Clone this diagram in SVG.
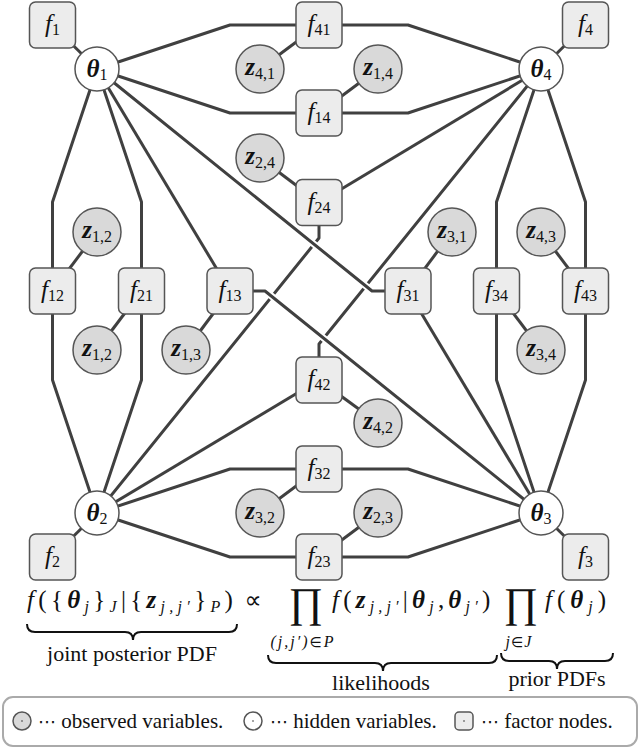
<svg xmlns="http://www.w3.org/2000/svg" width="640" height="749" viewBox="0 0 640 749">
<defs>
<rect id="fb" x="-23" y="-23" width="46" height="46" rx="6" fill="#ececec" stroke="#555" stroke-width="1.5"/>
<circle id="obsC" r="24" fill="#d9d9d9" stroke="#555" stroke-width="1.5"/>
<circle id="hidC" r="22" fill="#fff" stroke="#555" stroke-width="1.5"/>
</defs>
<g id="connectors" fill="none" stroke="#404040" stroke-width="3" stroke-linejoin="round">
<polyline points="97,69 52.5,25"/>
<polyline points="97,69 52.5,202 52.5,291"/>
<polyline points="97,69 141.5,202 141.5,291"/>
<polyline points="97,69 230,291"/>
<polyline points="97,69 230,25 319,25"/>
<polyline points="97,69 230,113 319,113"/>
<polyline points="97,513 52.5,557"/>
<polyline points="52.5,291 52.5,380 97,513"/>
<polyline points="141.5,291 141.5,380 97,513"/>
<polyline points="319,202.5 319,238 97,513"/>
<polyline points="319,380 97,513"/>
<polyline points="97,513 230,469 319,469"/>
<polyline points="97,513 230,557 319,557"/>
<polyline points="541,513 585.5,557"/>
<polyline points="496.5,291 496.5,380 541,513"/>
<polyline points="585.5,291 585.5,380 541,513"/>
<polyline points="408,291 541,513"/>
<polyline points="319,469 408,469 541,513"/>
<polyline points="319,557 408,557 541,513"/>
<polyline points="541,69 585.5,25"/>
<polyline points="496.5,291 496.5,202 541,69"/>
<polyline points="585.5,291 585.5,202 541,69"/>
<polyline points="319,202.5 541,69"/>
<polyline points="319,380 319,344 541,69"/>
<polyline points="319,25 408,25 541,69"/>
<polyline points="319,113 408,113 541,69"/>
<g stroke="#fff" stroke-width="7">
<line x1="309.6" y1="240.6" x2="319" y2="248.2"/>
<line x1="361.4" y1="282.4" x2="370.8" y2="290"/>
<line x1="267.4" y1="292.8" x2="276.8" y2="300.4"/>
<line x1="319.3" y1="334.6" x2="328.7" y2="342.2"/>
</g>
<polyline points="97,69 372,291 408,291"/>
<polyline points="230,291 265,291 541,513"/>
<line x1="97" y1="232" x2="52.5" y2="291"/>
<line x1="97" y1="350" x2="141.5" y2="291"/>
<line x1="186" y1="350" x2="230" y2="291"/>
<line x1="452" y1="232" x2="408" y2="291"/>
<line x1="541" y1="232" x2="585.5" y2="291"/>
<line x1="541" y1="350" x2="496.5" y2="291"/>
<line x1="260" y1="69" x2="319" y2="25"/>
<line x1="378" y1="69" x2="319" y2="113"/>
<line x1="260" y1="158" x2="319" y2="202.5"/>
<line x1="378" y1="423" x2="319" y2="380"/>
<line x1="260" y1="513" x2="319" y2="469"/>
<line x1="378" y1="513" x2="319" y2="557"/>
</g>
<g id="nodes" font-family="Liberation Serif" font-size="25" text-anchor="middle" fill="#111">
<g id="f1" transform="translate(52.5,25)"><use href="#fb"/><text y="7"><tspan font-style="italic">f</tspan><tspan font-size="16" dy="3">1</tspan></text></g>
<g id="f4" transform="translate(585.5,25)"><use href="#fb"/><text y="7"><tspan font-style="italic">f</tspan><tspan font-size="16" dy="3">4</tspan></text></g>
<g id="f2" transform="translate(52.5,557)"><use href="#fb"/><text y="7"><tspan font-style="italic">f</tspan><tspan font-size="16" dy="3">2</tspan></text></g>
<g id="f3" transform="translate(585.5,557)"><use href="#fb"/><text y="7"><tspan font-style="italic">f</tspan><tspan font-size="16" dy="3">3</tspan></text></g>
<g id="f41" transform="translate(319,25)"><use href="#fb"/><text y="7"><tspan font-style="italic">f</tspan><tspan font-size="16" dy="3">41</tspan></text></g>
<g id="f14" transform="translate(319,113)"><use href="#fb"/><text y="7"><tspan font-style="italic">f</tspan><tspan font-size="16" dy="3">14</tspan></text></g>
<g id="f24" transform="translate(319,202.5)"><use href="#fb"/><text y="7"><tspan font-style="italic">f</tspan><tspan font-size="16" dy="3">24</tspan></text></g>
<g id="f42" transform="translate(319,380)"><use href="#fb"/><text y="7"><tspan font-style="italic">f</tspan><tspan font-size="16" dy="3">42</tspan></text></g>
<g id="f32" transform="translate(319,469)"><use href="#fb"/><text y="7"><tspan font-style="italic">f</tspan><tspan font-size="16" dy="3">32</tspan></text></g>
<g id="f23" transform="translate(319,557)"><use href="#fb"/><text y="7"><tspan font-style="italic">f</tspan><tspan font-size="16" dy="3">23</tspan></text></g>
<g id="f12" transform="translate(52.5,291)"><use href="#fb"/><text y="7"><tspan font-style="italic">f</tspan><tspan font-size="16" dy="3">12</tspan></text></g>
<g id="f21" transform="translate(141.5,291)"><use href="#fb"/><text y="7"><tspan font-style="italic">f</tspan><tspan font-size="16" dy="3">21</tspan></text></g>
<g id="f13" transform="translate(230,291)"><use href="#fb"/><text y="7"><tspan font-style="italic">f</tspan><tspan font-size="16" dy="3">13</tspan></text></g>
<g id="f31" transform="translate(408,291)"><use href="#fb"/><text y="7"><tspan font-style="italic">f</tspan><tspan font-size="16" dy="3">31</tspan></text></g>
<g id="f34" transform="translate(496.5,291)"><use href="#fb"/><text y="7"><tspan font-style="italic">f</tspan><tspan font-size="16" dy="3">34</tspan></text></g>
<g id="f43" transform="translate(585.5,291)"><use href="#fb"/><text y="7"><tspan font-style="italic">f</tspan><tspan font-size="16" dy="3">43</tspan></text></g>
<g id="theta1" transform="translate(97,69)"><use href="#hidC"/><text y="8"><tspan font-style="italic" font-weight="bold">θ</tspan><tspan font-size="16" dy="3">1</tspan></text></g>
<g id="theta4" transform="translate(541,69)"><use href="#hidC"/><text y="8"><tspan font-style="italic" font-weight="bold">θ</tspan><tspan font-size="16" dy="3">4</tspan></text></g>
<g id="theta2" transform="translate(97,513)"><use href="#hidC"/><text y="8"><tspan font-style="italic" font-weight="bold">θ</tspan><tspan font-size="16" dy="3">2</tspan></text></g>
<g id="theta3" transform="translate(541,513)"><use href="#hidC"/><text y="8"><tspan font-style="italic" font-weight="bold">θ</tspan><tspan font-size="16" dy="3">3</tspan></text></g>
<g id="z12a" transform="translate(97,232)"><use href="#obsC"/><text y="6"><tspan font-style="italic" font-weight="bold">z</tspan><tspan font-size="16" dy="4">1,2</tspan></text></g>
<g id="z12b" transform="translate(97,350)"><use href="#obsC"/><text y="6"><tspan font-style="italic" font-weight="bold">z</tspan><tspan font-size="16" dy="4">1,2</tspan></text></g>
<g id="z13" transform="translate(186,350)"><use href="#obsC"/><text y="6"><tspan font-style="italic" font-weight="bold">z</tspan><tspan font-size="16" dy="4">1,3</tspan></text></g>
<g id="z31" transform="translate(452,232)"><use href="#obsC"/><text y="6"><tspan font-style="italic" font-weight="bold">z</tspan><tspan font-size="16" dy="4">3,1</tspan></text></g>
<g id="z43" transform="translate(541,232)"><use href="#obsC"/><text y="6"><tspan font-style="italic" font-weight="bold">z</tspan><tspan font-size="16" dy="4">4,3</tspan></text></g>
<g id="z34" transform="translate(541,350)"><use href="#obsC"/><text y="6"><tspan font-style="italic" font-weight="bold">z</tspan><tspan font-size="16" dy="4">3,4</tspan></text></g>
<g id="z41" transform="translate(260,69)"><use href="#obsC"/><text y="6"><tspan font-style="italic" font-weight="bold">z</tspan><tspan font-size="16" dy="4">4,1</tspan></text></g>
<g id="z14" transform="translate(378,69)"><use href="#obsC"/><text y="6"><tspan font-style="italic" font-weight="bold">z</tspan><tspan font-size="16" dy="4">1,4</tspan></text></g>
<g id="z24" transform="translate(260,158)"><use href="#obsC"/><text y="6"><tspan font-style="italic" font-weight="bold">z</tspan><tspan font-size="16" dy="4">2,4</tspan></text></g>
<g id="z42" transform="translate(378,423)"><use href="#obsC"/><text y="6"><tspan font-style="italic" font-weight="bold">z</tspan><tspan font-size="16" dy="4">4,2</tspan></text></g>
<g id="z32" transform="translate(260,513)"><use href="#obsC"/><text y="6"><tspan font-style="italic" font-weight="bold">z</tspan><tspan font-size="16" dy="4">3,2</tspan></text></g>
<g id="z23" transform="translate(378,513)"><use href="#obsC"/><text y="6"><tspan font-style="italic" font-weight="bold">z</tspan><tspan font-size="16" dy="4">2,3</tspan></text></g>
</g>
<g id="equation" font-family="Liberation Serif" font-size="22" fill="#111">
<text x="27" y="608" font-size="25" letter-spacing="4.3"><tspan font-style="italic">f</tspan>({<tspan font-style="italic" font-weight="bold">θ</tspan><tspan font-size="16" font-style="italic" dy="4">j</tspan><tspan dy="-4">}</tspan><tspan font-size="16" font-style="italic" dy="4">J</tspan><tspan dy="-4">|{</tspan><tspan font-style="italic" font-weight="bold">z</tspan><tspan font-size="16" font-style="italic" dy="4">j,j′</tspan><tspan dy="-4">}</tspan><tspan font-size="16" font-style="italic" dy="4">P</tspan><tspan dy="-4">)</tspan></text>
<text x="253" y="608" font-size="24" font-family="DejaVu Sans" text-anchor="middle">∝</text>
<text x="306" y="617" font-size="42" text-anchor="middle">∏</text>
<text x="303" y="647" font-size="16" font-style="italic" text-anchor="middle" letter-spacing="2">(j,j′)<tspan font-family="DejaVu Sans" font-style="normal" font-size="14">∈</tspan>P</text>
<text x="332" y="608" font-size="25" letter-spacing="4.2"><tspan font-style="italic">f</tspan>(<tspan font-style="italic" font-weight="bold">z</tspan><tspan font-size="16" font-style="italic" dy="4">j,j′</tspan><tspan dy="-4">|</tspan><tspan font-style="italic" font-weight="bold">θ</tspan><tspan font-size="16" font-style="italic" dy="4">j</tspan><tspan dy="-4">,</tspan><tspan font-style="italic" font-weight="bold">θ</tspan><tspan font-size="16" font-style="italic" dy="4">j′</tspan><tspan dy="-4">)</tspan></text>
<text x="521" y="617" font-size="42" text-anchor="middle">∏</text>
<text x="519" y="647" font-size="16" font-style="italic" text-anchor="middle" letter-spacing="1">j<tspan font-family="DejaVu Sans" font-style="normal" font-size="14">∈</tspan>J</text>
<text x="545" y="608" font-size="25" letter-spacing="5"><tspan font-style="italic">f</tspan>(<tspan font-style="italic" font-weight="bold">θ</tspan><tspan font-size="16" font-style="italic" dy="4">j</tspan><tspan dy="-4">)</tspan></text>
<g fill="none" stroke="#111" stroke-width="2">
<path d="M27,624 Q27,632 35,632 L125,632 Q133,632 133,640 Q133,632 141,632 L229,632 Q237,632 237,624"/>
<path d="M268,655 Q268,663 276,663 L375,663 Q383,663 383,671 Q383,663 391,663 L489,663 Q497,663 497,655"/>
<path d="M501,653 Q501,661 509,661 L549,661 Q557,661 557,669 Q557,661 565,661 L605,661 Q613,661 613,653"/>
</g>
<text x="132" y="661" text-anchor="middle">joint posterior PDF</text>
<text x="381" y="690" text-anchor="middle">likelihoods</text>
<text x="557" y="686" text-anchor="middle">prior PDFs</text>
</g>
<g id="legend" font-family="Liberation Serif" font-size="21" fill="#111">
<rect x="3" y="697" width="634" height="49" rx="10" fill="#fff" stroke="#aaa" stroke-width="2"/>
<circle cx="22" cy="721" r="9" fill="#d9d9d9" stroke="#555" stroke-width="1.5"/><circle cx="22" cy="721" r="0.8" fill="#333"/>
<text x="38" y="728"><tspan font-family="DejaVu Sans" font-size="18">⋯</tspan> observed variables.</text>
<circle cx="253" cy="721" r="9" fill="#fff" stroke="#555" stroke-width="1.5"/><circle cx="253" cy="721" r="0.8" fill="#333"/>
<text x="270" y="728"><tspan font-family="DejaVu Sans" font-size="18">⋯</tspan> hidden variables.</text>
<rect x="455" y="712" width="18" height="18" rx="4" fill="#ececec" stroke="#555" stroke-width="1.5"/><circle cx="464" cy="721" r="0.8" fill="#333"/>
<text x="481" y="728"><tspan font-family="DejaVu Sans" font-size="18">⋯</tspan> factor nodes.</text>
</g>
</svg>
